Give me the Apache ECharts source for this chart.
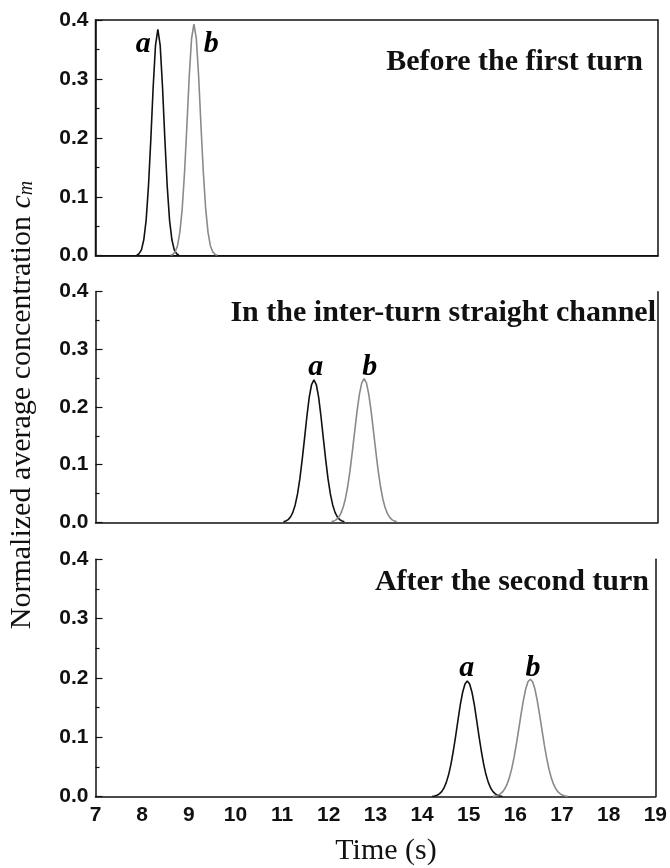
<!DOCTYPE html>
<html>
<head>
<meta charset="utf-8">
<script src="https://cdn.jsdelivr.net/npm/echarts@6/dist/echarts.min.js"></script>
<style>
html,body{margin:0;padding:0;background:#fff;}
#chart{width:670px;height:868px;}
</style>
</head>
<body>
<div id="chart"></div>
<script>
// ---- data ----
var panelTitles = ['Before the first turn', 'In the inter-turn straight channel', 'After the second turn'];
var xMin = 7, xMax = 19, xStep = 1;
var yMin = 0, yMax = 0.4, yStep = 0.1;

var topA = [[7.88,0.001],[7.93,0.0034],[7.98,0.010],[8.03,0.027],[8.08,0.060],[8.13,0.118],[8.18,0.197],[8.23,0.286],[8.28,0.357],[8.33,0.384],[8.38,0.357],[8.43,0.286],[8.48,0.197],[8.53,0.118],[8.58,0.060],[8.63,0.027],[8.68,0.010],[8.73,0.0034],[8.78,0.001]];
var topB = [[8.60,0.0007],[8.65,0.0022],[8.70,0.0066],[8.75,0.017],[8.80,0.040],[8.85,0.080],[8.90,0.142],[8.95,0.221],[9.00,0.305],[9.05,0.369],[9.10,0.393],[9.15,0.369],[9.20,0.305],[9.25,0.221],[9.30,0.142],[9.35,0.080],[9.40,0.040],[9.45,0.017],[9.50,0.0066],[9.55,0.0022],[9.60,0.0007]];

var midA = [[11.01,0.001],[11.06,0.0022],[11.11,0.0046],[11.16,0.0092],[11.21,0.0172],[11.26,0.0301],[11.31,0.0493],[11.36,0.0757],[11.41,0.109],[11.46,0.146],[11.51,0.184],[11.56,0.217],[11.61,0.239],[11.66,0.247],[11.71,0.239],[11.76,0.217],[11.81,0.184],[11.86,0.146],[11.91,0.109],[11.96,0.0757],[12.01,0.0493],[12.06,0.0301],[12.11,0.0172],[12.16,0.0092],[12.21,0.0046],[12.26,0.0022],[12.31,0.001]];
var midB = [[12.03,0.001],[12.08,0.0021],[12.13,0.0042],[12.18,0.0081],[12.23,0.0146],[12.28,0.0251],[12.33,0.0405],[12.38,0.0621],[12.43,0.0898],[12.48,0.123],[12.53,0.158],[12.58,0.193],[12.63,0.222],[12.68,0.242],[12.73,0.249],[12.78,0.242],[12.83,0.222],[12.88,0.193],[12.93,0.158],[12.98,0.123],[13.03,0.0898],[13.08,0.0621],[13.13,0.0405],[13.18,0.0251],[13.23,0.0146],[13.28,0.0081],[13.33,0.0042],[13.38,0.0021],[13.43,0.001]];

var botA = [[14.22,0.0006],[14.27,0.0012],[14.32,0.0025],[14.37,0.0047],[14.42,0.0086],[14.47,0.0147],[14.52,0.0241],[14.57,0.0373],[14.62,0.055],[14.67,0.077],[14.72,0.102],[14.77,0.129],[14.82,0.155],[14.87,0.176],[14.92,0.190],[14.97,0.195],[15.02,0.190],[15.07,0.176],[15.12,0.155],[15.17,0.129],[15.22,0.102],[15.27,0.077],[15.32,0.055],[15.37,0.0373],[15.42,0.0241],[15.47,0.0147],[15.52,0.0086],[15.57,0.0047],[15.62,0.0025],[15.67,0.0012],[15.72,0.0006]];
var botB = [[15.52,0.0006],[15.57,0.0012],[15.62,0.0023],[15.67,0.0043],[15.72,0.0076],[15.77,0.0128],[15.82,0.0206],[15.87,0.0317],[15.92,0.0465],[15.97,0.0653],[16.02,0.0877],[16.07,0.1124],[16.12,0.1378],[16.17,0.1615],[16.22,0.181],[16.27,0.1936],[16.32,0.198],[16.37,0.1936],[16.42,0.181],[16.47,0.1615],[16.52,0.1378],[16.57,0.1124],[16.62,0.0877],[16.67,0.0653],[16.72,0.0465],[16.77,0.0317],[16.82,0.0206],[16.87,0.0128],[16.92,0.0076],[16.97,0.0043],[17.02,0.0023],[17.07,0.0012],[17.12,0.0006]];

// peak annotations: [time, value, text]
var labelsTop = [[8.02,0.359,'a'],[9.47,0.359,'b']];
var labelsMid = [[11.70,0.269,'a'],[12.85,0.269,'b']];
var labelsBot = [[14.96,0.217,'a'],[16.38,0.217,'b']];

var yAxisTitle = 'Normalized average concentration ';
var xAxisTitle = 'Time (s)';

// ---- layout / style ----
var grids = [
  {left: 95.5, top: 20, width: 562.5, height: 235.7},
  {left: 95.5, top: 291.7, width: 562.5, height: 230.6},
  {left: 95.5, top: 559.3, width: 562.5, height: 237.4}
];
var axisColor = '#111';
var colorA = '#111111', colorB = '#8a8a8a';
var tickFont = {fontFamily: 'Liberation Sans, Arial, sans-serif', fontWeight: 'bold', fontSize: 21, color: '#111'};

var option = {
  animation: false,
  backgroundColor: '#fff',
  grid: grids.map(function (g, i) {
    return Object.assign({
      show: i === 0,
      borderColor: axisColor,
      borderWidth: 1.5,
      containLabel: false
    }, g);
  }),
  xAxis: [],
  yAxis: [],
  series: [],
  graphic: []
};

for (var i = 0; i < 3; i++) {
  option.xAxis.push({
    type: 'value', gridIndex: i, min: xMin, max: xMax, interval: xStep,
    axisLine: {show: true, onZero: false, lineStyle: {color: axisColor, width: 1.5}},
    axisTick: {show: false},
    splitLine: {show: false},
    axisLabel: Object.assign({show: i === 2, margin: 8}, tickFont)
  });
  option.yAxis.push({
    type: 'value', gridIndex: i, min: yMin, max: yMax, interval: yStep,
    axisLine: {show: true, onZero: false, lineStyle: {color: axisColor, width: 1.5}},
    axisTick: {show: true, inside: true, length: 7, lineStyle: {color: axisColor, width: 1.2}},
    minorTick: {show: true, splitNumber: 2, length: 4, lineStyle: {color: axisColor, width: 1.2}},
    splitLine: {show: false},
    axisLabel: Object.assign({margin: 7, formatter: function (v) { return v.toFixed(1); }}, tickFont)
  });
}
// right-hand frame lines for the lower two panels
[1, 2].forEach(function (gi) {
  option.yAxis.push({
    type: 'value', gridIndex: gi, position: 'right', min: yMin, max: yMax, interval: yStep,
    axisLine: {show: true, onZero: false, lineStyle: {color: axisColor, width: 1.5}},
    axisTick: {show: false}, axisLabel: {show: false}, splitLine: {show: false}
  });
});

var curves = [[topA, topB], [midA, midB], [botA, botB]];
var annots = [labelsTop, labelsMid, labelsBot];
curves.forEach(function (pair, gi) {
  option.series.push({
    type: 'line', xAxisIndex: gi, yAxisIndex: gi, data: pair[0],
    showSymbol: false, symbol: 'none', lineStyle: {color: colorA, width: 1.6}, z: 3
  });
  option.series.push({
    type: 'line', xAxisIndex: gi, yAxisIndex: gi, data: pair[1],
    showSymbol: false, symbol: 'none', lineStyle: {color: colorB, width: 1.6}, z: 3
  });
  option.series.push({
    type: 'scatter', xAxisIndex: gi, yAxisIndex: gi, symbolSize: 0,
    itemStyle: {color: '#000', opacity: 1},
    data: annots[gi].map(function (d) { return {value: [d[0], d[1]], name: d[2]}; }),
    label: {
      show: true, position: 'inside', formatter: '{b}',
      fontFamily: 'Liberation Serif, Times New Roman, serif', fontStyle: 'italic', fontWeight: 'bold',
      fontSize: 30, color: '#000', opacity: 1, textBorderWidth: 0, textBorderColor: 'transparent',
      align: 'center', verticalAlign: 'middle'
    },
    silent: true, z: 4
  });
});

var titlePos = [[643, 62], [656, 313], [649, 582]];
panelTitles.forEach(function (t, i) {
  option.graphic.push({
    type: 'text', x: titlePos[i][0], y: titlePos[i][1], z: 10,
    style: {
      text: t, fill: '#111',
      font: 'bold 30px "Liberation Serif", "Times New Roman", serif',
      align: 'right', verticalAlign: 'middle', textAlign: 'right', textVerticalAlign: 'middle'
    }
  });
});
option.graphic.push({
  type: 'text', x: 22, y: 405, rotation: Math.PI / 2, z: 10,
  style: {
    text: '{n|' + yAxisTitle + '}{c|c}{m|m}',
    fill: '#111',
    align: 'center', verticalAlign: 'middle', textAlign: 'center', textVerticalAlign: 'middle',
    rich: {
      n: {fontFamily: 'Liberation Serif', fontSize: 30, color: '#111'},
      c: {fontFamily: 'Liberation Serif', fontStyle: 'italic', fontSize: 30, color: '#111'},
      m: {fontFamily: 'Liberation Serif', fontStyle: 'italic', fontSize: 20, color: '#111', verticalAlign: 'bottom'}
    }
  }
});
option.graphic.push({
  type: 'text', x: 386, y: 851, z: 10,
  style: {
    text: xAxisTitle, fill: '#111',
    font: '30px "Liberation Serif", "Times New Roman", serif',
    align: 'center', verticalAlign: 'middle', textAlign: 'center', textVerticalAlign: 'middle'
  }
});

var chart = echarts.init(document.getElementById('chart'), null, {renderer: 'canvas'});
chart.setOption(option);
</script>
</body>
</html>
